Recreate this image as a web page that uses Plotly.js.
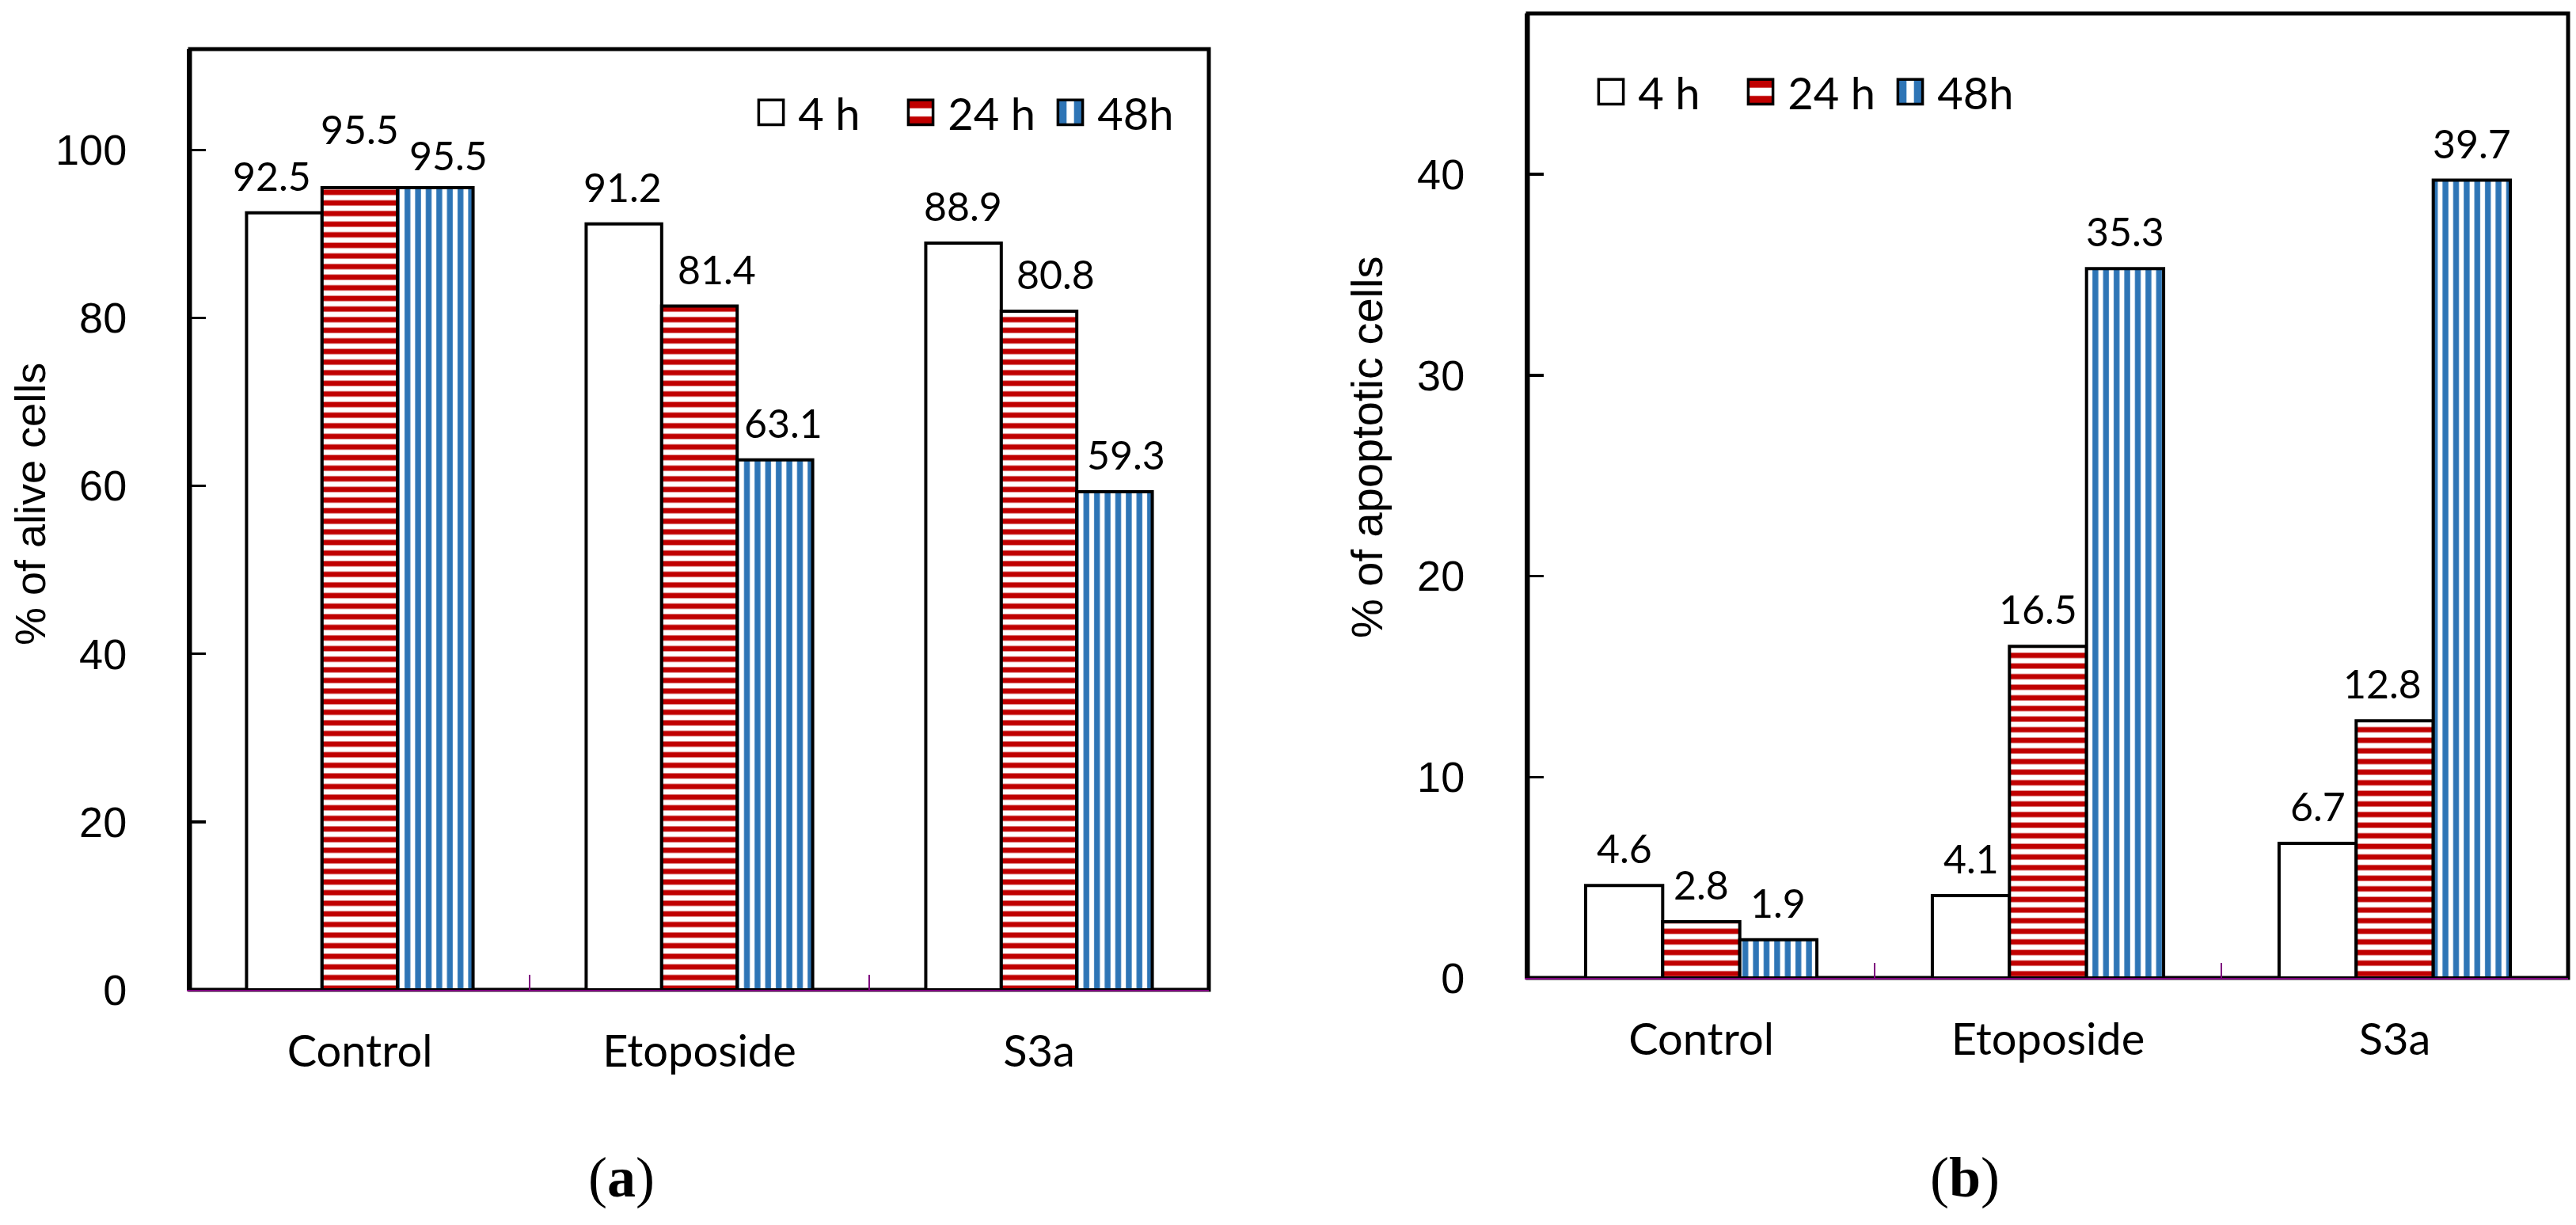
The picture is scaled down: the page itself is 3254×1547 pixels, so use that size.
<!DOCTYPE html>
<html>
<head>
<meta charset="utf-8">
<script src="https://cdn.plot.ly/plotly-3.0.1.min.js"></script>
<style>
  html, body { margin: 0; padding: 0; background: #ffffff; }
  #chart { width: 3254px; height: 1547px; }
</style>
</head>
<body>
<div id="chart"></div>
<script>
// ---------- data ----------
const categories = ['Control', 'Etoposide', 'S3a'];
const seriesNames = ['4 h', '24 h', '48h'];
const alive4h  = [92.5, 91.2, 88.9];
const alive24h = [95.5, 81.4, 80.8];
const alive48h = [95.5, 63.1, 59.3];
const apop4h   = [4.6, 4.1, 6.7];
const apop24h  = [2.8, 16.5, 12.8];
const apop48h  = [1.9, 35.3, 39.7];
const aliveTicks = [0, 20, 40, 60, 80, 100];
const apopTicks  = [0, 10, 20, 30, 40];
const yTitleA = '% of alive cells';
const yTitleB = '% of apoptotic cells';
const panelLabels = ['(<b>a</b>)', '(<b>b</b>)'];

// ---------- style / layout constants ----------
const W = 3254, H = 1547;
const FONT = 'Lato, "Open Sans", "DejaVu Sans", sans-serif';
const ARIAL = '"Liberation Sans", Arial, sans-serif';
const SERIF = '"Liberation Serif", "Times New Roman", serif';
const RED = '#C00000', BLUE = '#2E75B6', PURPLE = '#7F007F';
const BARGAP = 0.333;
const LEGEND_PAD = '\u00a0';   // small gap between the enlarged swatch and its text

const domA = { x: [240 / W, 1527 / W], y: [(H - 1250) / H, (H - 62) / H] };
const domB = { x: [1930 / W, 3244 / W], y: [(H - 1235) / H, (H - 17) / H] };

// label nudges (pixels) per series [4h, 24h, 48h] x category
const labelDxA = [[-16, -2, -1], [0, 22, 21], [17, 11, 15]];
const labelDyA = [[0, 0, 0], [27, 0, 0], [-6, 0, 0]];
const labelDxB = [[0, 0, 0], [0, -13, -16], [0, 0, 0]];
const labelDyB = [[0, 0, 0], [0, 0, 0], [0, 0, 0]];

function markerFor(i) {
  const line = { color: '#000000', width: 4 };
  if (i === 0) return { color: '#ffffff', line: line };
  if (i === 1) return { color: '#ffffff', line: line,
    pattern: { shape: '-', fgcolor: RED, bgcolor: '#ffffff', size: 13.4, solidity: 0.5, fillmode: 'replace' } };
  return { color: '#ffffff', line: line,
    pattern: { shape: '|', fgcolor: BLUE, bgcolor: '#ffffff', size: 13.4, solidity: 0.55, fillmode: 'replace' } };
}

const seriesA = [alive4h, alive24h, alive48h];
const seriesB = [apop4h, apop24h, apop48h];

const traces = [];
seriesA.forEach((vals, i) => traces.push({
  type: 'bar', x: categories, y: vals, name: LEGEND_PAD + seriesNames[i],
  xaxis: 'x', yaxis: 'y', legend: 'legend', marker: markerFor(i), hoverinfo: 'x+y'
}));
seriesB.forEach((vals, i) => traces.push({
  type: 'bar', x: categories, y: vals, name: LEGEND_PAD + seriesNames[i],
  xaxis: 'x2', yaxis: 'y2', legend: 'legend2', marker: markerFor(i), hoverinfo: 'x+y'
}));

// value labels built from the data arrays
const annotations = [];
function addValueLabels(series, dom, xref, yref, dx, dy, gap) {
  const catPx = (dom.x[1] - dom.x[0]) * W / categories.length;
  const barPx = catPx * (1 - BARGAP) / series.length;
  series.forEach((vals, i) => {
    vals.forEach((v, j) => {
      annotations.push({
        x: categories[j], y: v, xref: xref, yref: yref,
        text: v.toFixed(1), showarrow: false,
        xanchor: 'center', yanchor: 'bottom',
        xshift: (i - (series.length - 1) / 2) * barPx + dx[i][j],
        yshift: gap + dy[i][j],
        font: { family: FONT, size: 50, color: '#000000' }
      });
    });
  });
}
addValueLabels(seriesA, domA, 'x', 'y', labelDxA, labelDyA, 15);
addValueLabels(seriesB, domB, 'x2', 'y2', labelDxB, labelDyB, 15);

// y axis titles and panel labels
annotations.push({ text: yTitleA, xref: 'paper', yref: 'paper', x: 38 / W, y: (H - 637) / H,
  textangle: -90, showarrow: false, xanchor: 'center', yanchor: 'middle',
  font: { family: ARIAL, size: 54, color: '#000000' } });
annotations.push({ text: yTitleB, xref: 'paper', yref: 'paper', x: 1726 / W, y: (H - 565) / H,
  textangle: -90, showarrow: false, xanchor: 'center', yanchor: 'middle',
  font: { family: ARIAL, size: 56, color: '#000000' } });
annotations.push({ text: panelLabels[0], xref: 'paper', yref: 'paper', x: 785 / W, y: (H - 1487) / H,
  showarrow: false, xanchor: 'center', yanchor: 'middle',
  font: { family: SERIF, size: 72, color: '#000000' } });
annotations.push({ text: panelLabels[1], xref: 'paper', yref: 'paper', x: 2482 / W, y: (H - 1487) / H,
  showarrow: false, xanchor: 'center', yanchor: 'middle',
  font: { family: SERIF, size: 72, color: '#000000' } });

function xAxis(dom, anchor) {
  return {
    domain: dom.x, anchor: anchor, type: 'category',
    tickson: 'boundaries', ticks: 'inside', ticklen: 19, tickwidth: 2, tickcolor: PURPLE,
    showline: true, linecolor: PURPLE, linewidth: 2, showgrid: false, zeroline: false,
    tickfont: { family: FONT, size: 56, color: '#000000' }, ticklabelstandoff: 28,
    fixedrange: true
  };
}
function yAxis(dom, anchor, range, ticks) {
  return {
    domain: dom.y, anchor: anchor, range: range, tickvals: ticks, ticktext: ticks.map(String),
    ticks: 'inside', ticklen: 20, tickwidth: 3.5, tickcolor: '#000000',
    showline: true, linecolor: '#000000', linewidth: 4, showgrid: false, zeroline: false,
    tickfont: { family: ARIAL, size: 54, color: '#000000' }, ticklabelstandoff: 65,
    fixedrange: true
  };
}

const frame = (xr, yr) => ({
  type: 'rect', xref: xr + ' domain', yref: yr + ' domain', x0: 0, x1: 1, y0: 0, y1: 1,
  line: { color: '#000000', width: 5 }, fillcolor: 'rgba(0,0,0,0)', layer: 'below'
});

const legendStyle = (x, y) => ({
  orientation: 'h', x: x, y: y, xanchor: 'left', yanchor: 'middle',
  bgcolor: 'rgba(0,0,0,0)', borderwidth: 0, traceorder: 'normal',
  entrywidth: 144, entrywidthmode: 'pixels',
  font: { family: FONT, size: 56, color: '#000000' }, itemclick: false, itemdoubleclick: false
});

const layout = {
  width: W, height: H,
  margin: { l: 0, r: 0, t: 0, b: 0 },
  paper_bgcolor: '#ffffff', plot_bgcolor: '#ffffff',
  font: { family: FONT, color: '#000000' },
  barmode: 'group', bargap: BARGAP, bargroupgap: 0,
  showlegend: true,
  legend: legendStyle(954 / W, (H - 142) / H),
  legend2: legendStyle(2015 / W, (H - 116) / H),
  xaxis: xAxis(domA, 'y'),
  yaxis: yAxis(domA, 'x', [0, 112], aliveTicks),
  xaxis2: xAxis(domB, 'y2'),
  yaxis2: yAxis(domB, 'x2', [0, 48], apopTicks),
  shapes: [frame('x', 'y'), frame('x2', 'y2')],
  annotations: annotations
};

// enlarge the legend swatches to match the reference's big boxes
function restyleLegendSwatches() {
  document.querySelectorAll('g.legendpoints path').forEach(p => {
    if (!p.dataset.baseTransform) p.dataset.baseTransform = p.getAttribute('transform') || '';
    p.setAttribute('transform', p.dataset.baseTransform + ' scale(2.6)');
    p.style.strokeWidth = (3.5 / 2.6) + 'px';
  });
}

Plotly.newPlot('chart', traces, layout, { displayModeBar: false, staticPlot: true }).then(() => {
  restyleLegendSwatches();
  requestAnimationFrame(restyleLegendSwatches);
  setTimeout(restyleLegendSwatches, 200);
});
</script>
</body>
</html>
